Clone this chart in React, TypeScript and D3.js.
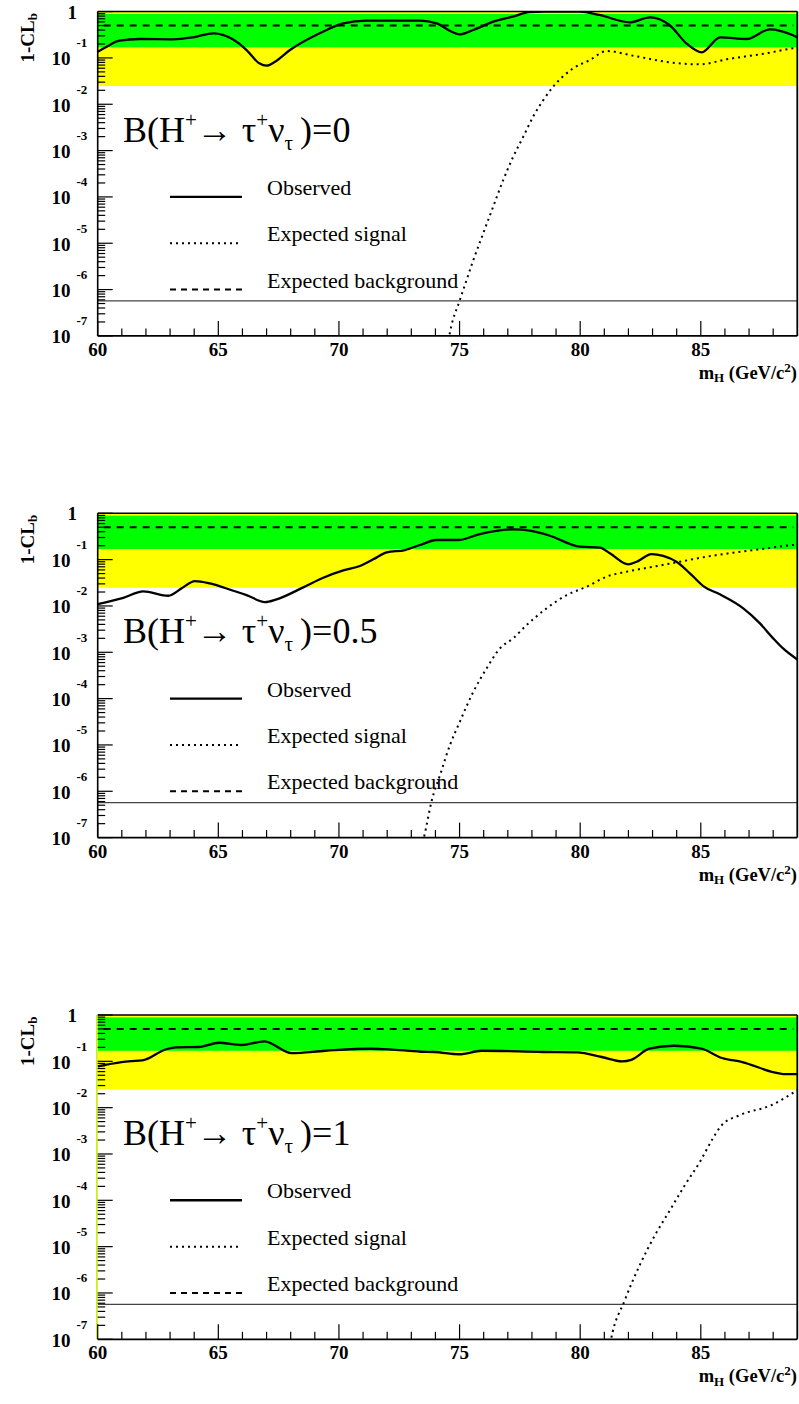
import React from "react";
import * as d3 from "d3";

// ---------- data ----------
const massDomain: [number, number] = [60, 89];
const xMajorTicks = [60, 65, 70, 75, 80, 85];
const xMinorTicks = [61, 62, 63, 64, 66, 67, 68, 69, 71, 72, 73, 74, 76, 77, 78, 79, 81, 82, 83, 84, 86, 87, 88];
const yDecadeExps = [0, -1, -2, -3, -4, -5, -6, -7];
const yMinorMultipliers = [2, 3, 4, 5, 6, 7, 8, 9];

const branchingLabels = ["0", "0.5", "1"];
const legendLabels = ["Observed", "Expected signal", "Expected background"];

const band1Sigma: [number, number] = [0.169, 0.89];
const band2Sigma: [number, number] = [0.0247, 1.0];
const expectedBackground = 0.5;
const fiveSigmaLine = 5.7e-7;

// B = 0
const obsB0: [number, number][] = [
  [60.0, 0.136], [60.37, 0.175], [60.9, 0.235], [61.75, 0.256], [63.13, 0.252], [63.96, 0.279],
  [64.8, 0.34], [65.6, 0.252], [66.17, 0.148], [66.7, 0.0764], [67.0, 0.0679], [67.35, 0.0828],
  [67.97, 0.148], [69.2, 0.34], [70.18, 0.559], [71.15, 0.636], [73.36, 0.636], [74.05, 0.559],
  [74.67, 0.368], [75.0, 0.323], [75.56, 0.401], [76.4, 0.605], [77.2, 0.776], [77.9, 0.98],
  [78.5, 1.0], [80.0, 1.0], [80.8, 0.845], [82.05, 0.587], [82.9, 0.753], [83.7, 0.514],
  [84.4, 0.207], [85.04, 0.132], [85.8, 0.279], [86.9, 0.256], [87.86, 0.415], [88.8, 0.312],
  [89.0, 0.279],
];
const sigB0: [number, number][] = [
  [74.5, 6e-8], [74.6, 1.18e-7], [75.01, 5.9e-7], [75.29, 1.6e-6], [75.57, 4.3e-6], [75.98, 1.63e-5],
  [76.39, 6.1e-5], [76.81, 2.31e-4], [77.22, 7.3e-4], [77.64, 1.99e-3], [78.05, 5.4e-3],
  [78.47, 0.0123], [78.88, 0.0239], [79.71, 0.0596], [80.4, 0.09], [81.1, 0.141], [82.2, 0.1116],
  [83.85, 0.0787], [84.96, 0.0727], [86.07, 0.0933], [87.7, 0.1257], [88.83, 0.161], [89.0, 0.165],
];

// B = 0.5
const obsB05: [number, number][] = [
  [60.0, 0.011], [61.06, 0.015], [61.89, 0.0207], [62.93, 0.0166], [63.48, 0.024], [64.03, 0.0345],
  [64.65, 0.0308], [65.62, 0.0213], [66.17, 0.0172], [66.93, 0.0121], [67.42, 0.0139], [68.52, 0.0252],
  [69.35, 0.0407], [70.18, 0.0587], [70.87, 0.0727], [71.42, 0.1015], [71.98, 0.144], [72.74, 0.161],
  [73.36, 0.207], [74.05, 0.265], [74.94, 0.265], [75.84, 0.357], [77.22, 0.451], [77.92, 0.421],
  [78.74, 0.328], [79.99, 0.19], [80.82, 0.181], [81.23, 0.137], [81.99, 0.0791], [82.34, 0.09],
  [82.96, 0.132], [83.44, 0.12], [83.99, 0.09], [84.55, 0.0506], [85.1, 0.0269], [85.79, 0.0178],
  [86.76, 0.00888], [87.45, 0.00421], [88.0, 0.002], [88.41, 0.00121], [89.0, 0.0007],
];
const sigB05: [number, number][] = [
  [73.4, 6e-8], [73.52, 1e-7], [73.85, 6.4e-7], [74.19, 2.23e-6], [74.6, 9.9e-6], [75.01, 3.16e-5],
  [75.57, 1.4e-4], [76.12, 4.49e-4], [76.67, 1.21e-3], [77.22, 2.0e-3], [77.78, 3.87e-3],
  [78.61, 8.9e-3], [79.44, 0.0172], [80.27, 0.026], [81.09, 0.0428], [81.92, 0.0548], [83.03, 0.0703],
  [84.13, 0.09], [85.24, 0.1155], [86.34, 0.141], [87.45, 0.167], [88.83, 0.207], [89.0, 0.21],
];

// B = 1
const obsB1: [number, number][] = [
  [60.0, 0.078], [60.99, 0.0966], [61.94, 0.108], [62.78, 0.178], [63.25, 0.2], [64.19, 0.204],
  [65.03, 0.252], [65.97, 0.225], [66.91, 0.27], [68.04, 0.151], [69.44, 0.169], [71.32, 0.187],
  [72.07, 0.182], [73.39, 0.161], [73.95, 0.159], [74.99, 0.142], [75.92, 0.169], [78.46, 0.159],
  [79.87, 0.156], [80.9, 0.124], [81.74, 0.1], [82.12, 0.108], [82.87, 0.187], [83.9, 0.217],
  [85.03, 0.187], [85.88, 0.118], [86.72, 0.0966], [88.04, 0.0578], [88.41, 0.0532], [89.0, 0.0532],
];
const sigB1: [number, number][] = [
  [81.2, 6e-8], [81.27, 9.5e-8], [81.85, 7.0e-7], [82.47, 4.0e-6], [83.1, 1.77e-5], [83.72, 6.1e-5],
  [84.34, 2.13e-4], [84.96, 6.7e-4], [85.46, 2.0e-3], [85.87, 4.2e-3], [86.62, 6.9e-3],
  [87.94, 0.0114], [89.0, 0.024],
];

const observedSeries = [obsB0, obsB05, obsB1];
const signalSeries = [sigB0, sigB05, sigB1];

// ---------- layout ----------
const W = 799;
const H = 1404;
const LEFT = 97.7;
const RIGHT = 797.3;
const PANEL_TOPS = [11.6, 513.3, 1015];
const PANEL_H = 324.3;
const SERIF = "'Liberation Serif', 'Times New Roman', serif";

function Panel({ idx }: { idx: number }) {
  const top = PANEL_TOPS[idx];
  const bottom = top + PANEL_H;
  const x = d3.scaleLinear().domain(massDomain).range([LEFT, RIGHT]);
  const y = d3.scaleLog().domain([1e-7, 1]).range([bottom, top]);
  const line = d3
    .line<[number, number]>()
    .x((d) => x(d[0]))
    .y((d) => y(d[1]))
    .curve(d3.curveMonotoneX);
  const clipId = `clip${idx}`;

  const yMajors = yDecadeExps.map((e) => Math.pow(10, e));
  const yMinors: number[] = [];
  yDecadeExps.slice(1).forEach((e) => {
    yMinorMultipliers.forEach((m) => yMinors.push(m * Math.pow(10, e)));
  });

  const legendY = [1e-4, 1e-5, 1e-6].map((v) => y(v));

  return (
    <g>
      <defs>
        <clipPath id={clipId}>
          <rect x={LEFT} y={top} width={RIGHT - LEFT} height={PANEL_H} />
        </clipPath>
      </defs>
      <g clipPath={`url(#${clipId})`}>
        <rect x={LEFT} y={y(band2Sigma[1])} width={RIGHT - LEFT} height={y(band2Sigma[0]) - y(band2Sigma[1])} fill="#ffff00" />
        <rect x={LEFT} y={y(band1Sigma[1])} width={RIGHT - LEFT} height={y(band1Sigma[0]) - y(band1Sigma[1])} fill="#00ff00" />
        <line x1={LEFT} x2={RIGHT} y1={y(fiveSigmaLine)} y2={y(fiveSigmaLine)} stroke="#444" strokeWidth={1.3} />
        <line x1={LEFT + 6} x2={RIGHT - 4} y1={y(expectedBackground)} y2={y(expectedBackground)} stroke="#000" strokeWidth={2} strokeDasharray="7,6" />
        <path d={line(signalSeries[idx]) || ""} fill="none" stroke="#000" strokeWidth={2} strokeDasharray="2,4" />
        <path d={line(observedSeries[idx]) || ""} fill="none" stroke="#000" strokeWidth={2.3} />
      </g>

      {/* frame */}
      <line x1={LEFT} x2={RIGHT} y1={top} y2={top} stroke="#000" strokeWidth={1.5} />
      <line x1={RIGHT} x2={RIGHT} y1={top} y2={bottom} stroke="#000" strokeWidth={1.8} />
      <line x1={LEFT} x2={RIGHT} y1={bottom} y2={bottom} stroke="#000" strokeWidth={1.8} />
      <line
        x1={idx === 2 ? LEFT - 0.8 : LEFT}
        x2={idx === 2 ? LEFT - 0.8 : LEFT}
        y1={top}
        y2={bottom}
        stroke={idx === 2 ? "#c8ee00" : "#000"}
        strokeWidth={1.6}
      />

      {/* x ticks */}
      {xMajorTicks.map((t) => (
        <line key={`xM${t}`} x1={x(t)} x2={x(t)} y1={bottom} y2={bottom - 15} stroke="#000" strokeWidth={1.2} />
      ))}
      {xMinorTicks.map((t) => (
        <line key={`xm${t}`} x1={x(t)} x2={x(t)} y1={bottom} y2={bottom - 7.5} stroke="#000" strokeWidth={1.2} />
      ))}
      {xMajorTicks.map((t) => (
        <text key={`xl${t}`} x={x(t)} y={bottom + 20} textAnchor="middle" fontFamily={SERIF} fontWeight="bold" fontSize={19}>
          {t}
        </text>
      ))}

      {/* y ticks */}
      {yMajors.map((v, i) => (
        <line key={`yM${i}`} x1={LEFT} x2={LEFT + 15} y1={y(v)} y2={y(v)} stroke="#000" strokeWidth={1.2} />
      ))}
      {yMinors.map((v, i) => (
        <line key={`ym${i}`} x1={LEFT} x2={LEFT + 7.5} y1={y(v)} y2={y(v)} stroke="#000" strokeWidth={1.2} />
      ))}
      {yDecadeExps.map((e) =>
        e === 0 ? (
          <text key={`yl${e}`} x={77} y={y(1) + 7} textAnchor="end" fontFamily={SERIF} fontWeight="bold" fontSize={19}>
            1
          </text>
        ) : (
          <g key={`yl${e}`}>
            <text x={70.5} y={y(Math.pow(10, e)) + 7.5} textAnchor="end" fontFamily={SERIF} fontWeight="bold" fontSize={19}>
              10
            </text>
            <text x={76.5} y={y(Math.pow(10, e)) - 10.5} textAnchor="start" fontFamily={SERIF} fontWeight="bold" fontSize={13}>
              {`-${-e}`}
            </text>
          </g>
        )
      )}

      {/* y title */}
      <text transform={`translate(34,${top + 1.5}) rotate(-90)`} textAnchor="end" fontFamily={SERIF} fontWeight="bold" fontSize={19}>
        1-CL<tspan dy={3} fontSize={13}>b</tspan>
      </text>

      {/* x title */}
      <text x={797} y={bottom + 43} textAnchor="end" fontFamily={SERIF} fontWeight="bold" fontSize={18.5}>
        m<tspan dy={3.5} fontSize={13}>H</tspan>
        <tspan dy={-3.5}> (GeV/c</tspan>
        <tspan dy={-7} fontSize={13}>2</tspan>
        <tspan dy={7}>)</tspan>
      </text>

      {/* big label */}
      <text x={123} y={top + 130} fontFamily={SERIF} fontSize={36}>
        B(H<tspan dy={-15} fontSize={21}>+</tspan>
        <tspan dy={15}>{"\u2192\u00a0\u03c4"}</tspan>
        <tspan dy={-15} fontSize={21}>+</tspan>
        <tspan dy={15}>{"\u03bd"}</tspan>
        <tspan dy={8} fontSize={21}>{"\u03c4"}</tspan>
        <tspan dy={-8}>{"\u2009)=" + branchingLabels[idx]}</tspan>
      </text>

      {/* legend */}
      <line x1={170} x2={242} y1={legendY[0]} y2={legendY[0]} stroke="#000" strokeWidth={2.4} />
      <line x1={170} x2={242} y1={legendY[1]} y2={legendY[1]} stroke="#000" strokeWidth={2} strokeDasharray="2,4" />
      <line x1={170} x2={242} y1={legendY[2]} y2={legendY[2]} stroke="#000" strokeWidth={2} strokeDasharray="6,5" />
      {legendLabels.map((l, i) => (
        <text key={l} x={267} y={legendY[i] - 2} fontFamily={SERIF} fontSize={22}>
          {l}
        </text>
      ))}
    </g>
  );
}

export default function App() {
  return (
    <div style={{ position: "absolute", left: 0, top: 0 }}>
      <svg width={W} height={H} viewBox={`0 0 ${W} ${H}`} style={{ display: "block", background: "#fff" }}>
        <rect x={0} y={0} width={W} height={H} fill="#fff" />
        {[0, 1, 2].map((i) => (
          <Panel key={i} idx={i} />
        ))}
      </svg>
    </div>
  );
}
